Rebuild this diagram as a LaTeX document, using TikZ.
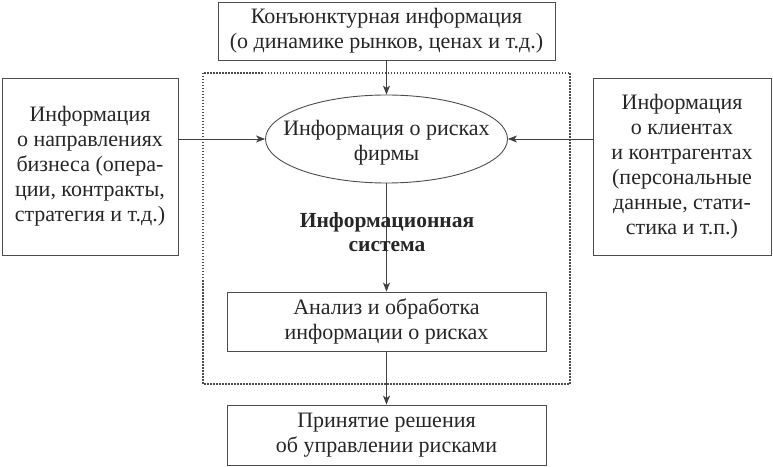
\documentclass[tikz,border=0pt]{standalone}
\usepackage{fontspec}
\setmainfont{Liberation Serif}
\usetikzlibrary{arrows.meta,shapes.geometric}
\begin{document}
\begin{tikzpicture}[x=1pt,y=1pt,
  txt/.style={font=\fontsize{22}{25}\selectfont, text=black!85, align=center},
  boxx/.style={txt, draw=black!70, line width=0.9pt, inner sep=0pt},
  arr/.style={draw=black!75, line width=0.9pt, -{Stealth[length=9pt,width=7pt,inset=2.5pt]}},
  dots/.style={draw=black!70, line width=1.2pt, dash pattern=on 1.5pt off 1.5pt}]
\useasboundingbox (0,0) rectangle (773,466);
\draw[dots] (203,393) rectangle (570,82);
\node[boxx, minimum width=337pt, minimum height=58pt] (top) at (386.5,435)
  {Конъюнктурная информация\\(о динамике рынков, ценах и т.д.)};
\node[draw=black!70, line width=0.9pt, ellipse, inner sep=0pt, minimum width=242pt, minimum height=88pt] (ell) at (386.5,327) {};
\node[txt] (ellt) at (386.5,323) {Информация о рисках\\фирмы};
\node[boxx, minimum width=176pt, minimum height=177pt] (left) at (90,299.5)
  {Информация\\о направлениях\\бизнеса (опера-\\ции, контракты,\\стратегия и т.д.)};
\node[boxx, minimum width=178pt, minimum height=177pt] (right) at (682,299.5)
  {Информация\\о клиентах\\и контрагентах\\(персональные\\данные, стати-\\стика и т.п.)};
\node[boxx, minimum width=319pt, minimum height=59pt] (anal) at (386.5,144.5)
  {Анализ и обработка\\информации о рисках};
\node[boxx, minimum width=319pt, minimum height=60pt] (dec) at (386.5,31)
  {Принятие решения\\об управлении рисками};
\draw[arr] (top) -- (ell);
\draw[arr] (left.east |- ell.west) -- (ell.west);
\draw[arr] (right.west |- ell.east) -- (ell.east);
\draw[arr] (ell) -- (anal);
\draw[arr] (anal) -- (dec);
\node[txt, font=\fontsize{21.5}{24}\selectfont\bfseries] (is) at (387,234) {Информационная\\система};
\end{tikzpicture}
\end{document}
